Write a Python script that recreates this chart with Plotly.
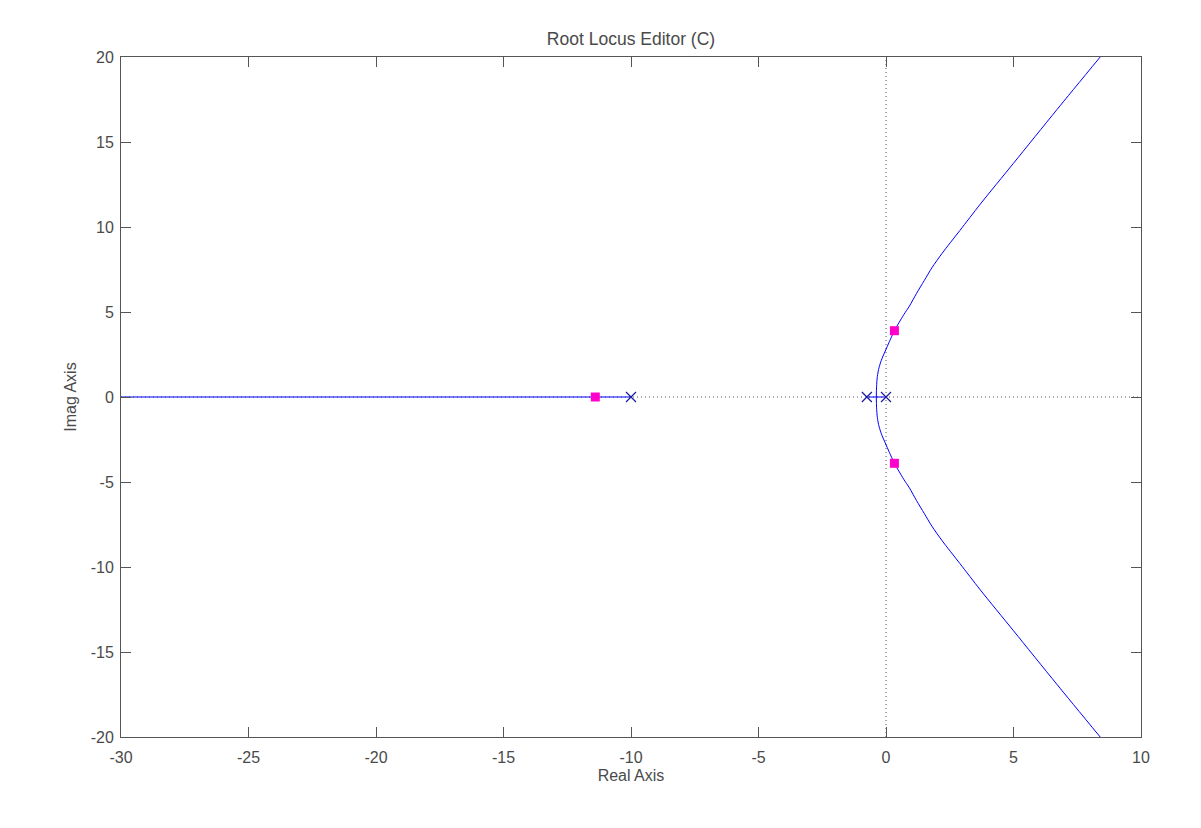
import plotly.graph_objects as go

# Open-loop poles (x markers)
pole_re = [-10.0, -0.75, 0.0]
pole_im = [0.0, 0.0, 0.0]

# Closed-loop poles (magenta squares)
cl_re = [-11.4, 0.33, 0.33]
cl_im = [0.0, 3.9, -3.9]

# Real-axis locus segments
seg1_re = [-30.0, -10.0]
seg1_im = [0.0, 0.0]
seg2_re = [-0.75, 0.0]
seg2_im = [0.0, 0.0]

# Complex branches
up_re = [-0.38, -0.37, -0.34, -0.27, -0.16, -0.03, 0.13, 0.33, 0.5, 0.7, 0.92, 1.2, 1.5, 1.8, 2.2, 2.9, 3.7, 5.0, 6.7, 8.4]
up_im = [0.0, 0.6, 1.2, 1.75, 2.25, 2.7, 3.25, 3.9, 4.35, 4.85, 5.35, 6.1, 6.85, 7.6, 8.45, 9.8, 11.35, 13.75, 16.9, 20.0]
lo_re = [-0.38, -0.37, -0.34, -0.27, -0.16, -0.03, 0.13, 0.33, 0.5, 0.7, 0.92, 1.2, 1.5, 1.8, 2.2, 2.9, 3.7, 5.0, 6.7, 8.4]
lo_im = [0.0, -0.6, -1.2, -1.75, -2.25, -2.7, -3.25, -3.9, -4.35, -4.85, -5.35, -6.1, -6.85, -7.6, -8.45, -9.8, -11.35, -13.75, -16.9, -20.0]

x_ticks = [-30, -25, -20, -15, -10, -5, 0, 5, 10]
x_ticktext = ["-30", "-25", "-20", "-15", "-10", "-5", "0", "5", "10"]
y_ticks = [-20, -15, -10, -5, 0, 5, 10, 15, 20]
y_ticktext = ["-20", "-15", "-10", "-5", "0", "5", "10", "15", "20"]

blue = "#0000ff"
axis_col = "#555555"
text_col = "#4a4a4a"
font_fam = "Liberation Sans, Arial"

fig = go.Figure()

# dotted reference lines through origin
fig.add_trace(go.Scatter(x=[-30, 10], y=[0, 0], mode="lines",
                         line=dict(color="#555555", width=1, dash="1px,3px"),
                         hoverinfo="skip", showlegend=False))
fig.add_trace(go.Scatter(x=[0, 0], y=[-20, 20], mode="lines",
                         line=dict(color="#555555", width=1, dash="1px,3px"),
                         hoverinfo="skip", showlegend=False))

for xs, ys in [(seg1_re, seg1_im), (seg2_re, seg2_im)]:
    fig.add_trace(go.Scatter(x=xs, y=ys, mode="lines",
                             line=dict(color=blue, width=1), showlegend=False))
for xs, ys in [(up_re, up_im), (lo_re, lo_im)]:
    fig.add_trace(go.Scatter(x=xs, y=ys, mode="lines",
                             line=dict(color=blue, width=1, shape="spline", smoothing=0.8),
                             showlegend=False))

fig.add_trace(go.Scatter(x=pole_re, y=pole_im, mode="markers",
                         marker=dict(symbol="x-thin", size=10, color="#1a1aa0",
                                     line=dict(color="#1a1aa0", width=1.2)),
                         showlegend=False))
fig.add_trace(go.Scatter(x=cl_re, y=cl_im, mode="markers",
                         marker=dict(symbol="square", size=9, color="#ff00cc",
                                     line=dict(width=0)),
                         showlegend=False))

axis_common = dict(showline=True, linecolor=axis_col, linewidth=1, mirror="ticks",
                   ticks="inside", ticklen=10, tickcolor=axis_col, tickwidth=1,
                   showgrid=False, zeroline=False,
                   tickfont=dict(family=font_fam, size=16, color=text_col))

fig.update_xaxes(range=[-30, 10], tickvals=x_ticks, ticktext=x_ticktext, **axis_common,
                 ticklabelstandoff=6,
                 title=dict(text="Real Axis", font=dict(family=font_fam, size=16, color=text_col),
                            standoff=4))
fig.update_yaxes(range=[-20, 20], tickvals=y_ticks, ticktext=y_ticktext, **axis_common,
                 ticklabelstandoff=3,
                 title=dict(text="Imag Axis", font=dict(family=font_fam, size=16, color=text_col),
                            standoff=10))

fig.update_layout(
    width=1185, height=812,
    margin=dict(l=113, r=52, t=49, b=83),
    paper_bgcolor="white", plot_bgcolor="white",
    title=dict(text="Root Locus Editor (C)", x=0.5, xref="paper", xanchor="center",
               y=0.962, yanchor="middle",
               font=dict(family=font_fam, size=17.5, color=text_col)),
)

fig.write_html("out.html")
